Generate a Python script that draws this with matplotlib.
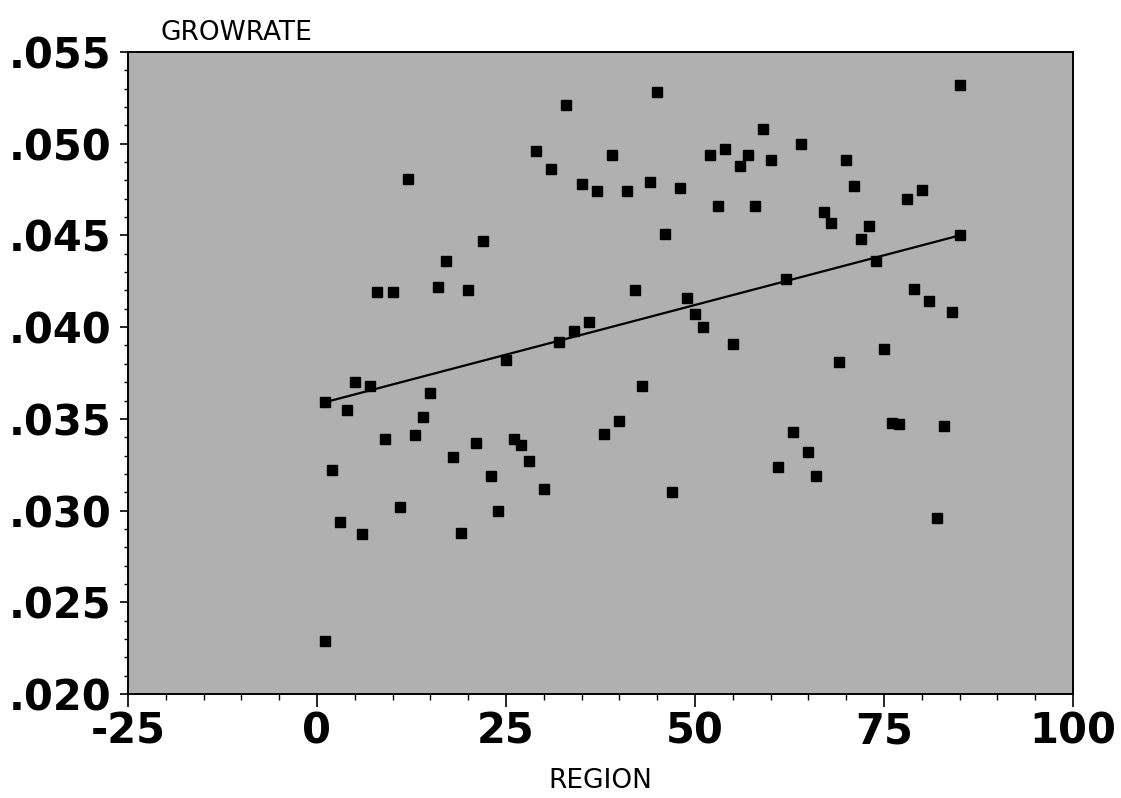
import matplotlib
matplotlib.use("Agg")
import matplotlib.pyplot as plt
from matplotlib.ticker import MultipleLocator, FuncFormatter

# ---- data ----
region = [1, 2, 3, 4, 5, 6, 7, 8, 9, 10,
          11, 12, 13, 14, 15, 16, 17, 18, 19, 20,
          21, 22, 23, 24, 25, 26, 27, 28, 29, 30,
          31, 32, 33, 34, 35, 36, 37, 38, 39, 40,
          41, 42, 43, 44, 45, 46, 47, 48, 49, 50,
          51, 52, 53, 54, 55, 56, 57, 58, 59, 60,
          61, 62, 63, 64, 65, 66, 67, 68, 69, 70,
          71, 72, 73, 74, 75, 76, 77, 78, 79, 80,
          81, 82, 83, 84, 85]
growrate = [0.0229, 0.0322, 0.0294, 0.0355, 0.0370, 0.0287, 0.0368, 0.0419, 0.0339, 0.0419,
            0.0302, 0.0481, 0.0341, 0.0351, 0.0364, 0.0422, 0.0436, 0.0329, 0.0288, 0.0420,
            0.0337, 0.0447, 0.0319, 0.0300, 0.0382, 0.0339, 0.0336, 0.0327, 0.0496, 0.0312,
            0.0486, 0.0392, 0.0521, 0.0398, 0.0478, 0.0403, 0.0474, 0.0342, 0.0494, 0.0349,
            0.0474, 0.0420, 0.0368, 0.0479, 0.0528, 0.0451, 0.0310, 0.0476, 0.0416, 0.0407,
            0.0400, 0.0494, 0.0466, 0.0497, 0.0391, 0.0488, 0.0494, 0.0466, 0.0508, 0.0491,
            0.0324, 0.0426, 0.0343, 0.0500, 0.0332, 0.0319, 0.0463, 0.0457, 0.0381, 0.0491,
            0.0477, 0.0448, 0.0455, 0.0436, 0.0388, 0.0348, 0.0347, 0.0470, 0.0421, 0.0475,
            0.0414, 0.0296, 0.0346, 0.0408, 0.0532]

# fitted regression line end points
fit_x = [1, 85]
fit_y = [0.0359, 0.0450]

x_ticks = [-25, 0, 25, 50, 75, 100]
y_ticks = [0.020, 0.025, 0.030, 0.035, 0.040, 0.045, 0.050, 0.055]

# ---- figure ----
fig = plt.figure(figsize=(11.21, 7.98), dpi=100)
ax = fig.add_axes([128 / 1121, 1 - 694 / 798, (1073 - 128) / 1121, (694 - 52) / 798])
ax.set_facecolor("#b0b0b0")

ax.plot(region, growrate, linestyle="none", marker="s", markersize=7,
        color="black", zorder=3)
ax.plot(fit_x, fit_y, color="black", linewidth=1.6, marker="s", markersize=7,
        zorder=4)

ax.set_xlim(-25, 100)
ax.set_ylim(0.020, 0.055)
ax.set_xticks(x_ticks)
ax.set_yticks(y_ticks)
ax.xaxis.set_minor_locator(MultipleLocator(5))
ax.yaxis.set_minor_locator(MultipleLocator(0.001))
ax.yaxis.set_major_formatter(FuncFormatter(lambda v, p: ("%.3f" % v)[1:]))
ax.xaxis.set_major_formatter(FuncFormatter(lambda v, p: "%d" % v))

for lab in ax.get_xticklabels() + ax.get_yticklabels():
    lab.set_fontweight("bold")
    lab.set_fontsize(30)
    lab.set_family("DejaVu Sans")

ax.tick_params(axis="x", which="major", length=9, width=1.2, direction="out", pad=3)
ax.tick_params(axis="x", which="minor", length=4, width=1.0, direction="out")
ax.tick_params(axis="y", which="major", length=6, width=1.2, direction="out", pad=6)
ax.tick_params(axis="y", which="minor", length=3, width=1.0, direction="out")

for s in ax.spines.values():
    s.set_linewidth(1.4)
    s.set_color("black")

fig.text(160 / 1121, 1 - 40 / 798, "GROWRATE", fontsize=19, ha="left",
         va="baseline", family="DejaVu Sans", fontweight="medium")
fig.text(600 / 1121, 1 - 788 / 798, "REGION", fontsize=19, ha="center",
         va="baseline", family="DejaVu Sans", fontweight="medium")

fig.savefig("out.png", dpi=100, facecolor="white")
